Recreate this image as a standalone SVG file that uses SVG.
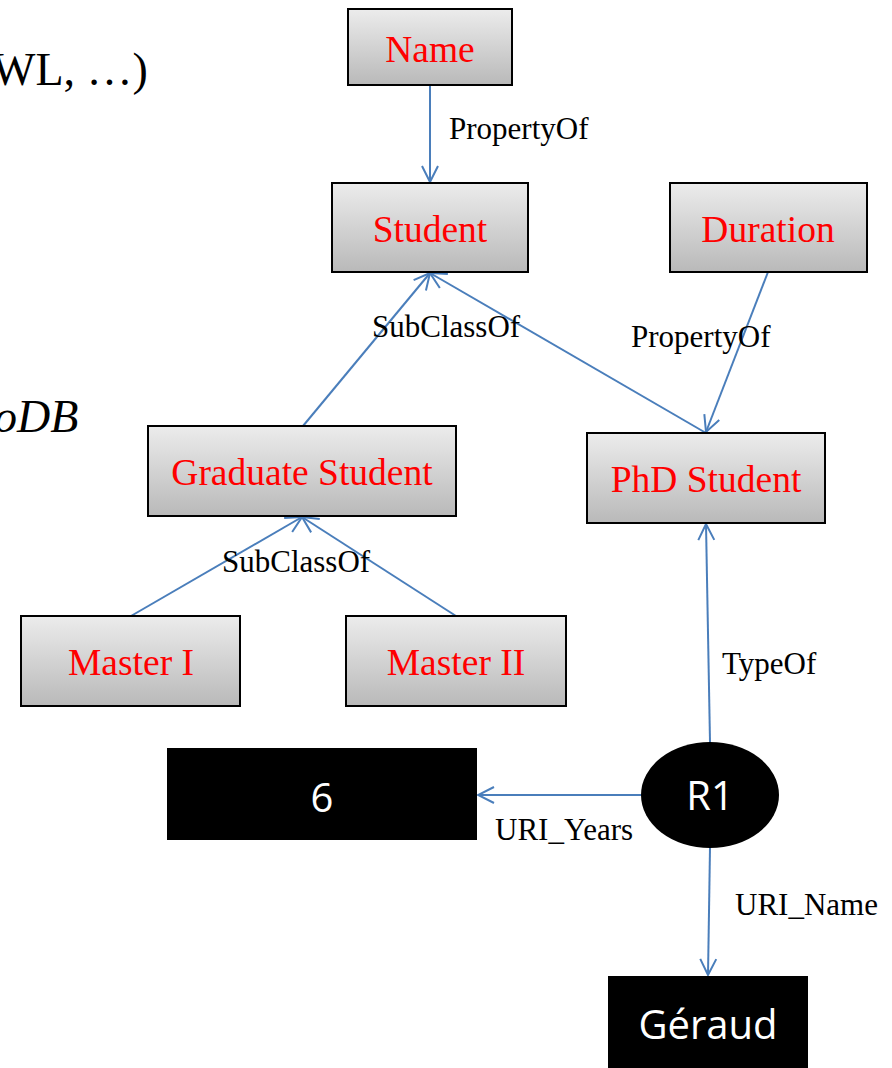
<svg xmlns="http://www.w3.org/2000/svg" width="892" height="1068" viewBox="0 0 892 1068">
<defs>
<linearGradient id="g" x1="0" y1="0" x2="0" y2="1">
<stop offset="0" stop-color="#ececec"/>
<stop offset="1" stop-color="#b9b9b9"/>
</linearGradient>
<marker id="a" viewBox="0 0 20 20" refX="18" refY="10" markerWidth="20" markerHeight="20" markerUnits="userSpaceOnUse" orient="auto">
<path d="M2,2 L18,10 L2,18" fill="none" stroke="#4a7ebb" stroke-width="2"/>
</marker>
<style>
.box{fill:url(#g);stroke:#000;stroke-width:2}
.nt{font-family:"Liberation Serif",serif;font-size:37.5px;fill:#ff0000;text-anchor:middle}
.el{font-family:"Liberation Serif",serif;font-size:31px;fill:#000}
.blk{fill:#000}
.wt{font-family:"Open Sans","DejaVu Sans",sans-serif;font-size:40px;fill:#fff;text-anchor:middle}
.cn{stroke:#4a7ebb;stroke-width:2;fill:none;marker-end:url(#a)}
.bg{font-family:"Liberation Serif",serif;font-size:46px;fill:#000}
</style>
</defs>
<rect width="892" height="1068" fill="#fff"/>
<text class="bg" x="-8" y="85">WL, …)</text>
<text class="bg" x="-6" y="432" font-size="44" font-style="italic">oDB</text>

<g id="connectors">
<line class="cn" x1="430" y1="85" x2="430" y2="182"/>
<line class="cn" x1="303" y1="426" x2="430" y2="273"/>
<line class="cn" x1="706" y1="433" x2="430" y2="273"/>
<line class="cn" x1="768" y1="272" x2="706" y2="432"/>
<line class="cn" x1="131" y1="616" x2="302" y2="517"/>
<line class="cn" x1="456" y1="616" x2="302" y2="517"/>
<line class="cn" x1="710" y1="742" x2="706" y2="524"/>
<line class="cn" x1="641" y1="795" x2="478" y2="795"/>
<line class="cn" x1="710" y1="848" x2="708" y2="975"/>
<text class="el" x="449" y="139">PropertyOf</text>
<text class="el" x="372" y="337">SubClassOf</text>
<text class="el" x="631" y="347">PropertyOf</text>
<text class="el" x="222" y="572">SubClassOf</text>
<text class="el" x="722" y="674">TypeOf</text>
<text class="el" x="495" y="840">URI_Years</text>
<text class="el" x="735" y="915">URI_Name</text>
</g>

<g id="name"><rect class="box" x="348" y="9" width="164" height="76"/><text class="nt" x="430" y="62">Name</text></g>
<g id="student"><rect class="box" x="332" y="183" width="196" height="89"/><text class="nt" x="430" y="242">Student</text></g>
<g id="duration"><rect class="box" x="670" y="183" width="197" height="89"/><text class="nt" x="768" y="242">Duration</text></g>
<g id="graduate"><rect class="box" x="148" y="426" width="308" height="90"/><text class="nt" x="302" y="485">Graduate Student</text></g>
<g id="phd"><rect class="box" x="587" y="433" width="238" height="90"/><text class="nt" x="706" y="492">PhD Student</text></g>
<g id="master1"><rect class="box" x="21" y="616" width="219" height="90"/><text class="nt" x="131" y="675">Master I</text></g>
<g id="master2"><rect class="box" x="346" y="616" width="220" height="90"/><text class="nt" x="456" y="675">Master II</text></g>
<g id="six"><rect class="blk" x="167" y="748" width="310" height="92"/><text class="wt" x="322" y="812">6</text></g>
<g id="r1"><ellipse class="blk" cx="710" cy="795" rx="69" ry="53"/><text class="wt" x="710" y="810">R1</text></g>
<g id="geraud"><rect class="blk" x="608" y="976" width="200" height="92"/><text class="wt" x="708" y="1039">Géraud</text></g>
</svg>
